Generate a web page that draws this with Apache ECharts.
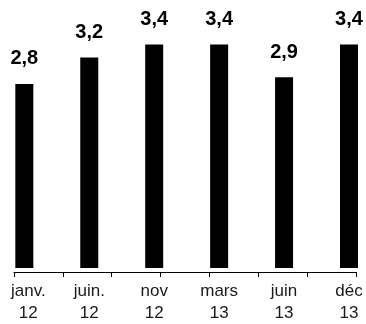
<!DOCTYPE html>
<html>
<head>
<meta charset="utf-8">
<style>
  html, body { margin: 0; padding: 0; background: #fff; }
  #chart { width: 366px; height: 324px; }
</style>
<script src="https://cdn.jsdelivr.net/npm/echarts@6/dist/echarts.min.js"></script>
</head>
<body>
<div id="chart"></div>
<script>
// Periods (month + two-digit year) and their values
const categories = ['janv.\n12', 'juin.\n12', 'nov\n12', 'mars\n13', 'juin\n13', 'déc\n13'];
const values = [2.8, 3.2, 3.4, 3.4, 2.9, 3.4];
// Tick slots along the baseline (independent of the bar positions)
const tickSlots = ['', '', '', '', '', '', ''];

const FONT = '"Liberation Sans", Arial, sans-serif';
const chart = echarts.init(document.getElementById('chart'), null, { renderer: 'canvas' });

// first label sits a little to the right of its bar
const categoryData = categories.map((c, i) =>
  i === 0 ? { value: c, textStyle: { padding: [0, 0, 0, 8] } } : c
);

chart.setOption({
  animation: false,
  backgroundColor: '#ffffff',
  grid: [
    // bars + category labels (categories sit on the grid points)
    { left: 23, right: 17, top: 5, bottom: 52, containLabel: false },
    // baseline with its tick marks
    { left: 14, right: 10, top: 5, bottom: 52, containLabel: false }
  ],
  xAxis: [
    {
      type: 'category',
      gridIndex: 0,
      data: categoryData,
      boundaryGap: false,
      axisLine: { show: false },
      axisTick: { show: false },
      axisLabel: {
        interval: 0,
        margin: 12,
        fontFamily: FONT,
        fontSize: 17,
        lineHeight: 22,
        color: '#1a1a1a'
      }
    },
    {
      type: 'category',
      gridIndex: 1,
      data: tickSlots,
      boundaryGap: true,
      axisLine: { show: true, lineStyle: { color: '#000', width: 1 } },
      axisTick: { show: true, length: 5, interval: 0, lineStyle: { color: '#000', width: 1 } },
      axisLabel: { show: false }
    }
  ],
  yAxis: [
    { type: 'value', gridIndex: 0, min: 0, max: 4, show: false },
    { type: 'value', gridIndex: 1, min: 0, max: 4, show: false }
  ],
  series: [
    {
      type: 'bar',
      xAxisIndex: 0,
      yAxisIndex: 0,
      data: values,
      barWidth: 18,
      clip: false,
      itemStyle: { color: '#000' },
      label: {
        show: true,
        position: 'top',
        distance: 15,
        fontFamily: FONT,
        fontSize: 20,
        fontWeight: 'bold',
        color: '#000',
        formatter: p => p.value.toFixed(1).replace('.', ',')
      }
    }
  ]
});
</script>
</body>
</html>
